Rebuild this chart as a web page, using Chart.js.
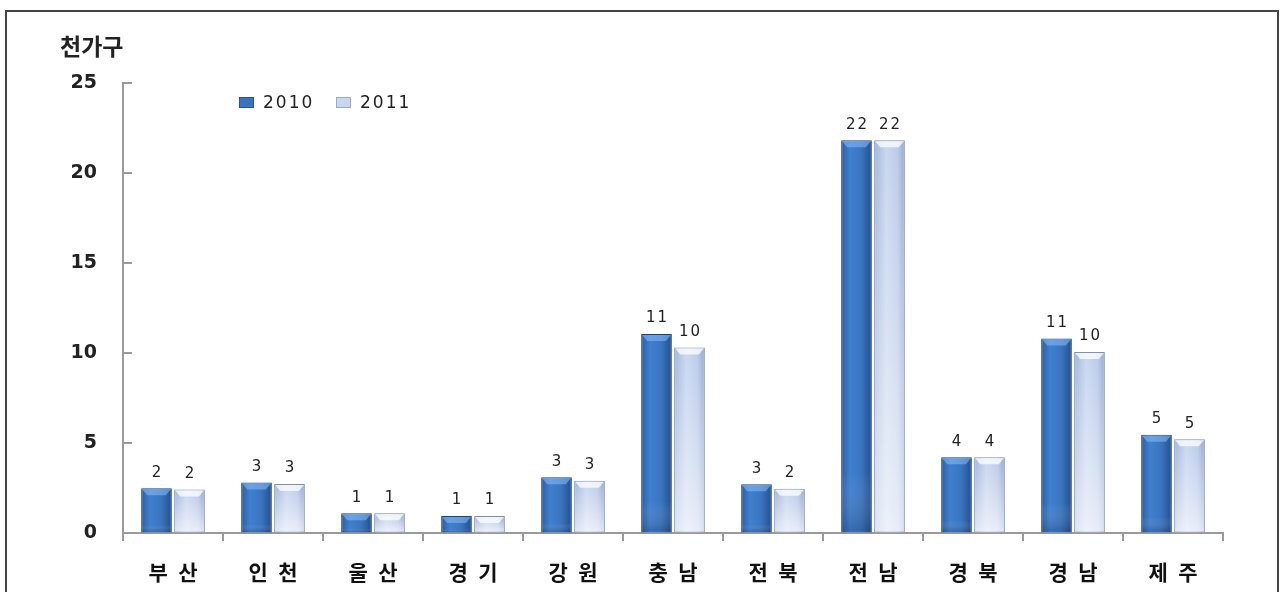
<!DOCTYPE html>
<html>
<head>
<meta charset="utf-8">
<script src="https://cdn.jsdelivr.net/npm/chart.js@4/dist/chart.umd.min.js"></script>
<style>
html,body{margin:0;padding:0;background:#fff;}
#wrap{position:relative;width:1284px;height:592px;overflow:hidden;}
#frame{position:absolute;left:5px;top:10px;width:1274px;height:600px;border:2px solid #444;box-sizing:border-box;}
canvas{position:absolute;left:0;top:0;}
</style>
</head>
<body>
<div id="wrap"><div id="frame"></div><canvas id="c" width="1284" height="592"></canvas></div>
<script>
const categories = ['부\u2002산','인\u2002천','울\u2002산','경\u2002기','강\u2002원','충\u2002남','전\u2002북','전\u2002남','경\u2002북','경\u2002남','제\u2002주'];
const series2010 = [2.48, 2.8, 1.1, 0.95, 3.1, 11.05, 2.7, 21.8, 4.2, 10.8, 5.45];
const series2011 = [2.42, 2.72, 1.1, 0.95, 2.9, 10.3, 2.45, 21.8, 4.2, 10.05, 5.2];
const seriesNames = ['2010', '2011'];
const yTicks = [0, 5, 10, 15, 20, 25];
const unitLabel = '천가구';

function barGradient(ctx, dark) {
  const chart = ctx.chart;
  const g = chart.ctx;
  const xs = chart.scales.x;
  if (!xs || xs.width === undefined || ctx.dataIndex === undefined) return dark ? '#3a74bf' : '#c3d3ee';
  const cx = xs.getPixelForValue(ctx.dataIndex) + (dark ? -16.5 : 16.5);
  const grad = g.createLinearGradient(cx - 16, 0, cx + 16, 0);
  if (dark) {
    grad.addColorStop(0, '#2b5a9b');
    grad.addColorStop(0.3, '#3f80d0');
    grad.addColorStop(0.65, '#3a74bf');
    grad.addColorStop(1, '#224d88');
  } else {
    grad.addColorStop(0, '#9fb3d8');
    grad.addColorStop(0.4, '#c9d7f0');
    grad.addColorStop(0.75, '#bccbe9');
    grad.addColorStop(1, '#8fa4cc');
  }
  return grad;
}

const extrasPlugin = {
  id: 'extras',
  afterDatasetsDraw(chart) {
    const g = chart.ctx;
    // shading overlays derived from bar elements
    chart.data.datasets.forEach((ds, di) => {
      const meta = chart.getDatasetMeta(di);
      meta.data.forEach(bar => {
        const w = bar.width, left = bar.x - w / 2 + 1, top = bar.y + 1, h = bar.base - bar.y - 2;
        if (h <= 2) return;
        g.save();
        const vg = g.createLinearGradient(0, top, 0, top + h);
        if (di === 1) {
          vg.addColorStop(0, 'rgba(255,255,255,0)');
          vg.addColorStop(1, 'rgba(255,255,255,0.65)');
        } else {
          vg.addColorStop(0, 'rgba(255,255,255,0)');
          vg.addColorStop(0.85, 'rgba(255,255,255,0)');
          vg.addColorStop(1, 'rgba(20,40,80,0.25)');
        }
        g.fillStyle = vg;
        g.fillRect(left, top, w - 2, h);
        // top bevel
        const cap = Math.min(6, h / 2);
        g.fillStyle = di === 0 ? 'rgba(140,190,245,0.55)' : 'rgba(255,255,255,0.75)';
        g.beginPath();
        g.moveTo(left, top);
        g.lineTo(left + w - 2, top);
        g.lineTo(left + w - 2 - 5, top + cap);
        g.lineTo(left + 5, top + cap);
        g.closePath();
        g.fill();
        g.restore();
      });
    });
    // value labels
    g.save();
    g.font = '15px "DejaVu Sans"';
    g.letterSpacing = '2px';
    g.fillStyle = '#222';
    g.textAlign = 'center';
    g.textBaseline = 'bottom';
    chart.data.datasets.forEach((ds, di) => {
      const meta = chart.getDatasetMeta(di);
      meta.data.forEach((bar, i) => {
        g.fillText(String(Math.round(ds.data[i])), bar.x + 1, bar.y - 8);
      });
    });
    g.restore();
  },
  afterDraw(chart) {
    const g = chart.ctx;
    const ys = chart.scales.y;
    g.save();
    g.strokeStyle = '#9a9a9a';
    g.lineWidth = 2;
    yTicks.forEach(v => {
      if (v === 0) return;
      const py = Math.round(ys.getPixelForValue(v));
      g.beginPath();
      g.moveTo(ys.right, py);
      g.lineTo(ys.right + 9, py);
      g.stroke();
    });
    g.restore();
    // legend
    g.save();
    g.font = '17px "DejaVu Sans"';
    g.letterSpacing = '2px';
    g.textBaseline = 'middle';
    g.textAlign = 'left';
    const lx = [239, 336];
    chart.data.datasets.forEach((ds, di) => {
      const x = lx[di], y = 103;
      g.fillStyle = di === 0 ? '#3a74bf' : '#c8d6ee';
      g.fillRect(x, y - 6, 15, 11);
      g.strokeStyle = di === 0 ? '#2a5590' : '#9aaacb';
      g.lineWidth = 1;
      g.strokeRect(x + 0.5, y - 5.5, 14, 10);
      g.fillStyle = '#222';
      g.fillText(ds.label, x + 24, y + 1);
    });
    g.restore();
  }
};

new Chart(document.getElementById('c'), {
  type: 'bar',
  data: {
    labels: categories,
    datasets: [
      {
        label: seriesNames[0],
        data: series2010,
        backgroundColor: ctx => barGradient(ctx, true),
        borderColor: '#1f4377',
        borderWidth: 1
      },
      {
        label: seriesNames[1],
        data: series2011,
        backgroundColor: ctx => barGradient(ctx, false),
        borderColor: '#7f8fae',
        borderWidth: 1
      }
    ]
  },
  options: {
    responsive: false,
    animation: false,
    layout: { padding: { left: 60, right: 61, top: 0, bottom: 0 } },
    datasets: { bar: { categoryPercentage: 0.66, barPercentage: 0.93 } },
    plugins: {
      legend: { display: false },
      tooltip: { enabled: false },
      title: {
        display: true,
        text: unitLabel,
        align: 'start',
        color: '#222',
        font: { family: '"Noto Sans CJK KR"', size: 23, weight: 'bold' },
        padding: { top: 32, bottom: 23 }
      }
    },
    scales: {
      x: {
        afterFit(scale) { scale.height = 59; },
        grid: { display: true, drawOnChartArea: false, drawTicks: true, tickLength: 8, color: '#9a9a9a', lineWidth: 2 },
        border: { display: true, color: '#9a9a9a', width: 2 },
        ticks: { color: '#111', padding: 18, font: { family: '"Noto Sans CJK KR"', size: 21, weight: 'bold' } }
      },
      y: {
        min: 0,
        max: 25,
        afterFit(scale) { scale.width = 63; },
        afterBuildTicks(scale) { scale.ticks = yTicks.map(v => ({ value: v })); },
        grid: { display: true, drawOnChartArea: false, drawTicks: false },
        border: { display: true, color: '#9a9a9a', width: 2 },
        ticks: { color: '#222', padding: 26, font: { family: '"DejaVu Sans"', size: 19, weight: 'bold' } }
      }
    }
  },
  plugins: [extrasPlugin]
});
</script>
</body>
</html>
